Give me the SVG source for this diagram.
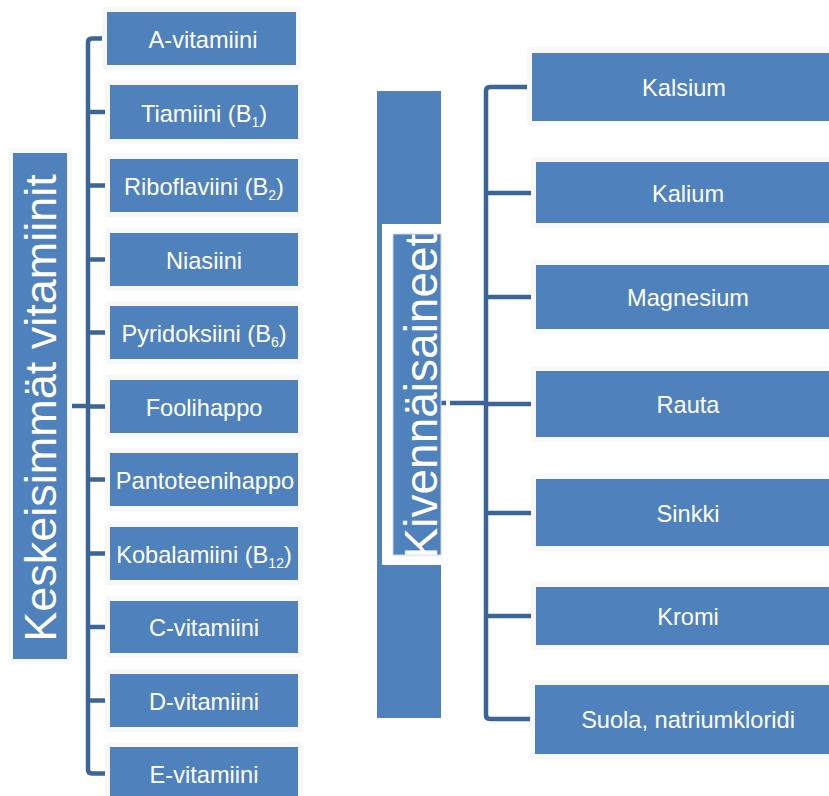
<svg xmlns="http://www.w3.org/2000/svg" width="829" height="796" viewBox="0 0 829 796">
  <style>
    .halo { fill: #f8f8f8; }
    .box { fill: #4f81bd; }
    .lbl { font-family: "Liberation Sans", Arial, sans-serif; font-size: 23.6px; fill: #ffffff; text-anchor: middle; }
    .sub { font-size: 14px; }
    .title { font-family: "Liberation Sans", Arial, sans-serif; fill: #ffffff; text-anchor: middle; }
    .wire { fill: none; stroke: #3c6496; stroke-width: 4.5; stroke-linecap: butt; }
  </style>
  <rect width="829" height="796" fill="#ffffff"/>

  <!-- connectors -->
  <g id="connectors">
    <!-- left tree -->
    <path class="wire" d="M72,406 H88"/>
    <path class="wire" d="M105,38.5 H92 Q88,38.5 88,42.5 V769.5 Q88,773.5 92,773.5 H107"/>
    <path class="wire" d="M88,112 H108 M88,185.5 H108 M88,259.5 H108 M88,332.5 H108 M88,406.5 H108 M88,479.5 H108 M88,553.5 H108 M88,627 H108 M88,700.5 H108"/>
    <!-- right tree -->
    <path class="wire" d="M441,403 H446"/>
    <path class="wire" d="M450,403 H486"/>
    <path class="wire" d="M529,87 H490 Q486,87 486,91 V715 Q486,719 490,719 H533"/>
    <path class="wire" d="M486,193 H533 M486,297 H533 M486,404 H533 M486,513 H533 M486,616 H533"/>
  </g>

  <!-- left title -->
  <g id="vitamins-title">
    <rect class="halo" x="8" y="148" width="64" height="516" rx="4"/>
    <rect class="box" x="13" y="153" width="54" height="506"/>
    <text class="title" font-size="45" transform="translate(55.5,408) rotate(-90)">Keskeisimmät vitamiinit</text>
  </g>

  <!-- vitamin nodes -->
  <g id="v-a">
    <rect class="halo" x="102" y="7" width="199" height="63" rx="4"/>
    <rect class="box" x="107" y="12" width="189" height="53"/>
    <text class="lbl" x="203" y="48">A-vitamiini</text>
  </g>
  <g id="v-b1">
    <rect class="halo" x="105" y="80" width="198" height="64" rx="4"/>
    <rect class="box" x="110" y="85" width="188" height="54"/>
    <text class="lbl" x="204" y="122">Tiamiini (B<tspan class="sub" dy="5">1</tspan><tspan dy="-5">)</tspan></text>
  </g>
  <g id="v-b2">
    <rect class="halo" x="105" y="154" width="198" height="63" rx="4"/>
    <rect class="box" x="110" y="159" width="188" height="53"/>
    <text class="lbl" x="204" y="195">Riboflaviini (B<tspan class="sub" dy="5">2</tspan><tspan dy="-5">)</tspan></text>
  </g>
  <g id="v-niasiini">
    <rect class="halo" x="105" y="228" width="198" height="63" rx="4"/>
    <rect class="box" x="110" y="233" width="188" height="53"/>
    <text class="lbl" x="204" y="269">Niasiini</text>
  </g>
  <g id="v-b6">
    <rect class="halo" x="105" y="301" width="198" height="63" rx="4"/>
    <rect class="box" x="110" y="306" width="188" height="53"/>
    <text class="lbl" x="204" y="342">Pyridoksiini (B<tspan class="sub" dy="5">6</tspan><tspan dy="-5">)</tspan></text>
  </g>
  <g id="v-foolihappo">
    <rect class="halo" x="105" y="375" width="198" height="63" rx="4"/>
    <rect class="box" x="110" y="380" width="188" height="53"/>
    <text class="lbl" x="204" y="416">Foolihappo</text>
  </g>
  <g id="v-pantoteenihappo">
    <rect class="halo" x="105" y="448" width="198" height="63" rx="4"/>
    <rect class="box" x="110" y="453" width="188" height="53"/>
    <text class="lbl" x="205" y="489">Pantoteenihappo</text>
  </g>
  <g id="v-b12">
    <rect class="halo" x="105" y="522" width="198" height="63" rx="4"/>
    <rect class="box" x="110" y="527" width="188" height="53"/>
    <text class="lbl" x="204" y="563">Kobalamiini (B<tspan class="sub" dy="5">12</tspan><tspan dy="-5">)</tspan></text>
  </g>
  <g id="v-c">
    <rect class="halo" x="105" y="596" width="198" height="62" rx="4"/>
    <rect class="box" x="110" y="601" width="188" height="52"/>
    <text class="lbl" x="204" y="636">C-vitamiini</text>
  </g>
  <g id="v-d">
    <rect class="halo" x="105" y="669" width="198" height="63" rx="4"/>
    <rect class="box" x="110" y="674" width="188" height="53"/>
    <text class="lbl" x="204" y="710">D-vitamiini</text>
  </g>
  <g id="v-e">
    <rect class="halo" x="105" y="742" width="198" height="63" rx="4"/>
    <rect class="box" x="110" y="747" width="188" height="53"/>
    <text class="lbl" x="204" y="783">E-vitamiini</text>
  </g>

  <!-- right title -->
  <g id="minerals-title">
    <rect class="box" x="377" y="91" width="64" height="627"/>
    <rect x="382" y="224" width="59" height="341" fill="#ffffff"/>
    <rect class="box" x="393" y="234" width="48" height="321" stroke="#c9d8ec" stroke-width="1"/>
    <text class="title" font-size="46" transform="translate(437,396) rotate(-90)">Kivennäisaineet</text>
  </g>

  <!-- mineral nodes -->
  <g id="m-kalsium">
    <rect class="halo" x="527" y="47" width="320" height="79" rx="4"/>
    <rect class="box" x="532" y="53" width="305" height="68"/>
    <text class="lbl" x="684" y="96">Kalsium</text>
  </g>
  <g id="m-kalium">
    <rect class="halo" x="531" y="157" width="320" height="71" rx="4"/>
    <rect class="box" x="536" y="162" width="305" height="61"/>
    <text class="lbl" x="688" y="202">Kalium</text>
  </g>
  <g id="m-magnesium">
    <rect class="halo" x="531" y="260" width="320" height="74" rx="4"/>
    <rect class="box" x="536" y="265" width="305" height="64"/>
    <text class="lbl" x="688" y="306">Magnesium</text>
  </g>
  <g id="m-rauta">
    <rect class="halo" x="531" y="366" width="320" height="76" rx="4"/>
    <rect class="box" x="536" y="371" width="305" height="66"/>
    <text class="lbl" x="688" y="413">Rauta</text>
  </g>
  <g id="m-sinkki">
    <rect class="halo" x="531" y="474" width="320" height="77" rx="4"/>
    <rect class="box" x="536" y="479" width="305" height="67"/>
    <text class="lbl" x="688" y="522">Sinkki</text>
  </g>
  <g id="m-kromi">
    <rect class="halo" x="531" y="582" width="320" height="68" rx="4"/>
    <rect class="box" x="536" y="587" width="305" height="58"/>
    <text class="lbl" x="688" y="625">Kromi</text>
  </g>
  <g id="m-suola">
    <rect class="halo" x="530" y="680" width="320" height="79" rx="4"/>
    <rect class="box" x="535" y="685" width="305" height="69"/>
    <text class="lbl" x="688" y="728">Suola, natriumkloridi</text>
  </g>
</svg>
